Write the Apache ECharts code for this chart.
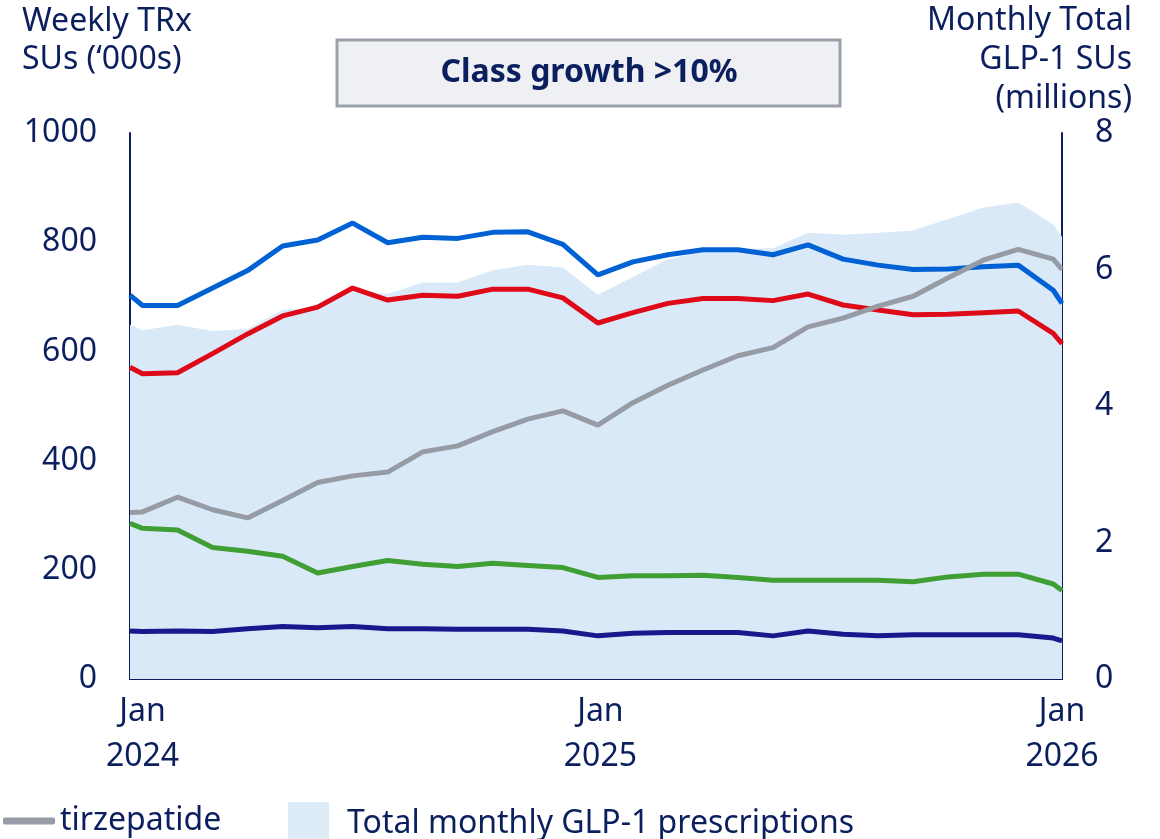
<!DOCTYPE html>
<html lang="en">
<head>
    <meta charset="UTF-8">
    <title>Weekly TRx SUs</title>
    <script type="text/javascript" src="https://cdn.jsdelivr.net/npm/echarts@6.0.0/dist/echarts.min.js"></script>
    <style>
        html, body { margin: 0; padding: 0; background: #fff; }
    </style>
</head>
<body>
<div id="container" style="width: 1160px; height: 839px"></div>
<script type="text/javascript">

    // x = days from 1 Jan 2024 (4-week periods)
    var days = [-10, 0, 28, 56, 84, 112, 140, 168, 196, 224, 252, 280, 308, 336, 364,
        392, 420, 448, 476, 504, 532, 560, 588, 616, 644, 672, 700, 728, 735];

    // weekly TRx SUs ('000s), left axis
    var blueLine = [703, 684, 684, 716, 748, 793, 804, 835, 799, 809, 807, 818, 819, 796, 740,
        764, 777, 786, 786, 777, 795, 769, 758, 750, 751, 755, 758, 712, 688];
    var redLine = [571, 559, 561, 596, 632, 665, 681, 716, 694, 703, 701, 714, 714, 698, 652,
        671, 688, 697, 697, 693, 705, 685, 676, 667, 668, 671, 674, 633, 614];
    var tirzepatide = [305, 306, 333, 310, 295, 327, 360, 372, 379, 416, 427, 453, 476, 491, 465,
        506, 538, 566, 592, 607, 645, 661, 683, 701, 735, 767, 787, 769, 750];
    var greenLine = [285, 276, 273, 241, 234, 225, 194, 206, 217, 210, 206, 212, 208, 204, 186,
        189, 189, 190, 186, 181, 181, 181, 181, 178, 187, 192, 192, 174, 162];
    var navyLine = [88, 87, 88, 87, 92, 96, 94, 96, 92, 92, 91, 91, 91, 88, 79,
        84, 85, 85, 85, 79, 88, 82, 79, 81, 81, 81, 81, 75, 70];

    // total monthly GLP-1 SUs (millions), right axis
    var totalGlp1 = [5.19, 5.11, 5.19, 5.10, 5.13, 5.41, 5.44, 5.70, 5.64, 5.81, 5.81, 5.99, 6.07, 6.03, 5.63,
        5.89, 6.15, 6.26, 6.30, 6.31, 6.54, 6.51, 6.54, 6.57, 6.74, 6.91, 6.98, 6.66, 6.48];

    var xTickValues = [0, 366, 735];
    var xTickLabels = ['Jan\n2024', 'Jan\n2025', 'Jan\n2026'];

    var navy = '#0b1f5e';
    var font = 'Noto Sans';

    function pairs(ys) {
        var out = [];
        for (var i = 0; i < days.length; i++) {
            out.push([days[i], ys[i]]);
        }
        return out;
    }

    function lineSeries(name, ys, color) {
        return {
            name: name,
            type: 'line',
            data: pairs(ys),
            symbol: 'none',
            itemStyle: { color: color },
            lineStyle: { color: color, width: 5 },
            z: 3
        };
    }

    var dom = document.getElementById('container');
    var myChart = echarts.init(dom, null, { renderer: 'canvas' });

    var option = {
        animation: false,
        textStyle: { fontFamily: font, color: navy },
        grid: { left: 130, right: 98, top: 133, bottom: 160 },
        legend: [
            {
                data: ['tirzepatide'],
                left: -2,
                top: 800,
                icon: 'roundRect',
                itemWidth: 52,
                itemHeight: 7,
                selectedMode: false,
                textStyle: { fontFamily: font, fontSize: 32, color: navy }
            },
            {
                data: [{ name: 'Total monthly GLP-1 prescriptions', itemStyle: { color: '#ddebf7' } }],
                left: 283,
                top: 797,
                icon: 'rect',
                itemWidth: 41,
                itemHeight: 44,
                selectedMode: false,
                textStyle: { fontFamily: font, fontSize: 32, color: navy, padding: [0, 0, 0, 13] }
            }
        ],
        xAxis: {
            type: 'value',
            min: -10,
            max: 735,
            axisLine: { show: true, lineStyle: { color: navy, width: 2 } },
            axisTick: { show: false },
            splitLine: { show: false },
            axisLabel: {
                customValues: xTickValues,
                formatter: function (v) {
                    return xTickLabels[xTickValues.indexOf(v)] || '';
                },
                fontFamily: font,
                fontSize: 32,
                lineHeight: 45,
                color: navy,
                margin: 10
            }
        },
        yAxis: [
            {
                type: 'value',
                min: 0,
                max: 1000,
                interval: 200,
                axisLine: { show: true, onZero: false, lineStyle: { color: navy, width: 2 } },
                axisTick: { show: false },
                splitLine: { show: false },
                axisLabel: {
                    formatter: function (v) { return String(v); },
                    fontFamily: font, fontSize: 32, color: navy, margin: 33
                }
            },
            {
                type: 'value',
                min: 0,
                max: 8,
                interval: 2,
                position: 'right',
                axisLine: { show: true, onZero: false, lineStyle: { color: navy, width: 2 } },
                axisTick: { show: false },
                splitLine: { show: false },
                axisLabel: { fontFamily: font, fontSize: 32, color: navy, margin: 33 }
            }
        ],
        graphic: [
            {
                type: 'text',
                x: 22,
                y: 3,
                style: {
                    text: 'Weekly TRx\nSUs (\u2018000s)',
                    font: '32px "Noto Sans"',
                    lineHeight: 38,
                    fill: navy
                }
            },
            {
                type: 'text',
                x: 1132,
                y: 1,
                style: {
                    text: 'Monthly Total\nGLP-1 SUs\n(millions)',
                    font: '32px "Noto Sans"',
                    lineHeight: 39,
                    align: 'right',
                    fill: navy
                }
            },
            {
                type: 'group',
                x: 337,
                y: 40,
                children: [
                    {
                        type: 'rect',
                        shape: { x: 0, y: 0, width: 503, height: 66 },
                        style: { fill: '#eef0f3', stroke: '#9ba1ab', lineWidth: 3 }
                    },
                    {
                        type: 'text',
                        x: 252,
                        y: 33,
                        style: {
                            text: 'Class growth >10%',
                            font: 'bold 32px "Noto Sans"',
                            fill: navy,
                            align: 'center',
                            verticalAlign: 'middle'
                        }
                    }
                ]
            }
        ],
        series: [
            {
                name: 'Total monthly GLP-1 prescriptions',
                type: 'line',
                yAxisIndex: 1,
                data: pairs(totalGlp1),
                symbol: 'none',
                itemStyle: { color: '#ddebf7' },
                lineStyle: { width: 0, color: '#d9e9f7' },
                areaStyle: { color: '#d9e9f7', opacity: 1 },
                z: 1
            },
            lineSeries('navy', navyLine, '#18198c'),
            lineSeries('green', greenLine, '#3f9f35'),
            lineSeries('red', redLine, '#df0a18'),
            lineSeries('blue', blueLine, '#0061d5'),
            lineSeries('tirzepatide', tirzepatide, '#969ba6')
        ]
    };

    if (option && typeof option === 'object') {
        myChart.setOption(option);
    }
    window.addEventListener('resize', myChart.resize);

</script>
</body>
</html>
